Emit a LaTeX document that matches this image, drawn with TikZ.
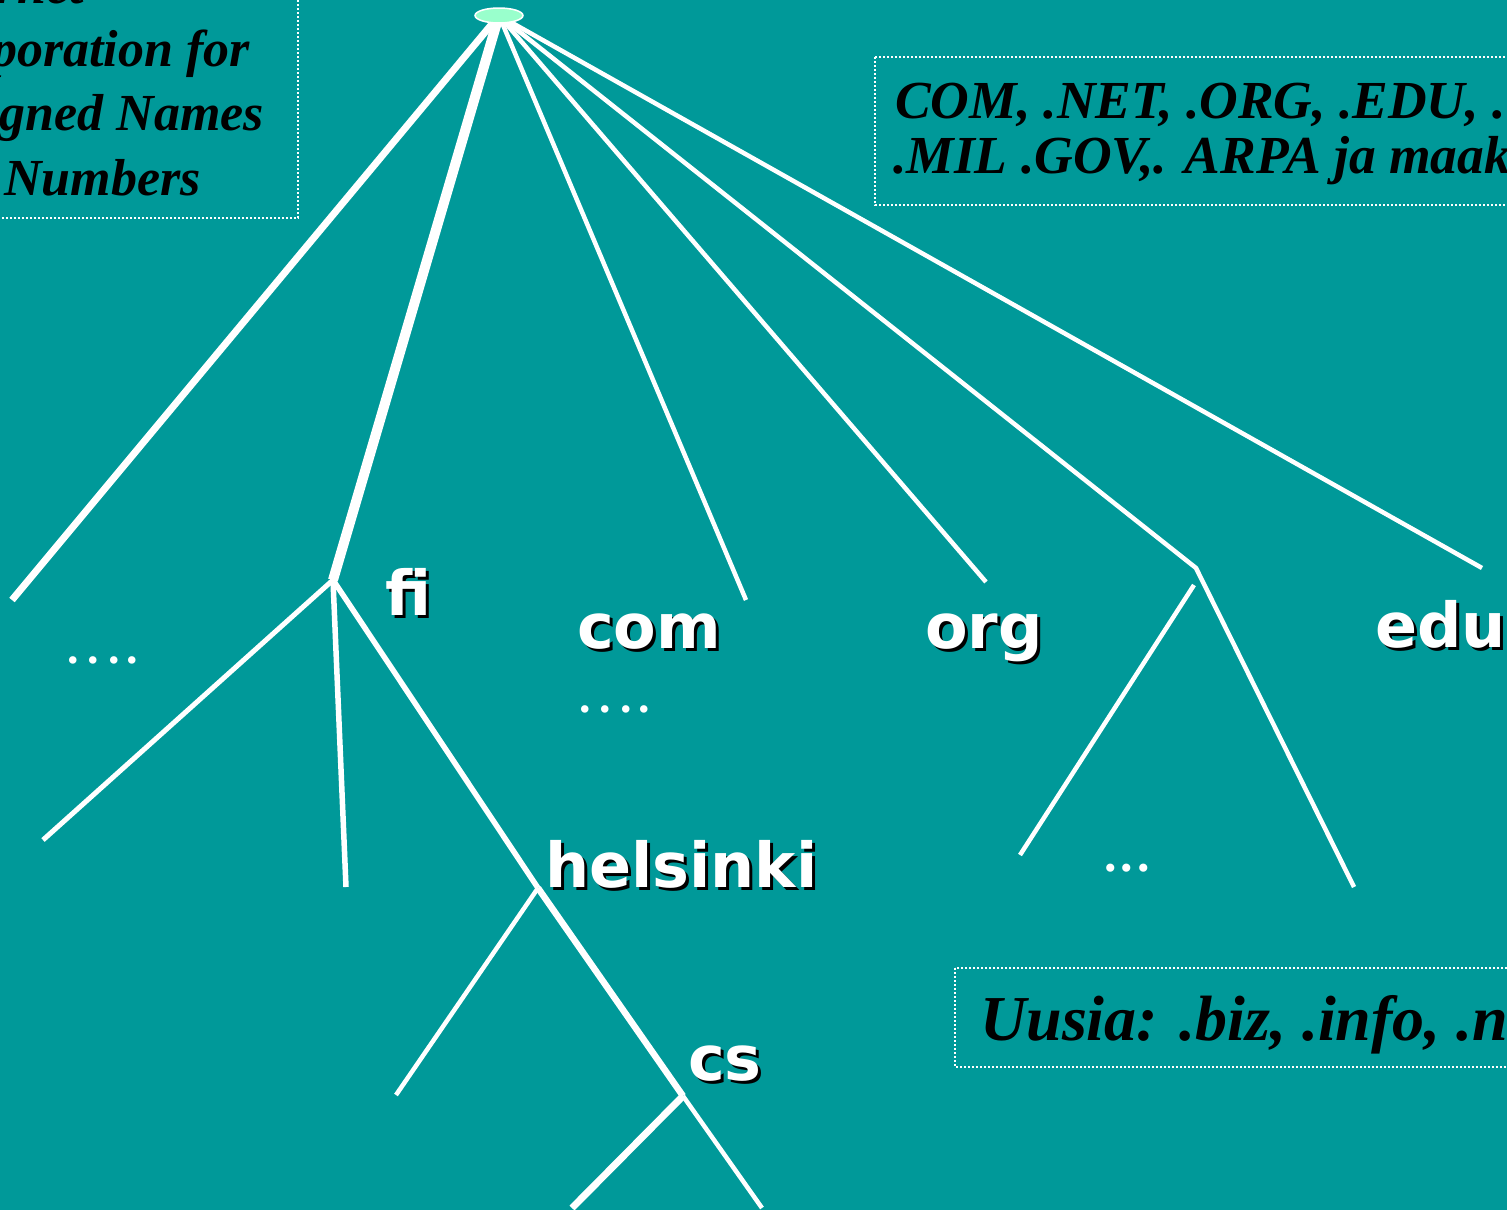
\documentclass[tikz,border=0pt]{standalone}
\usepackage{fontspec}
\usetikzlibrary{shapes.geometric}
\newfontfamily\tnr{Liberation Serif}
\newfontfamily\vrd{DejaVu Sans}
\definecolor{tealbg}{RGB}{0,153,153}
\definecolor{mint}{RGB}{153,255,204}
\pgfdeclarelayer{back}
\pgfdeclarelayer{lines}
\pgfsetlayers{back,lines,main}
\begin{document}
\begin{tikzpicture}[x=1pt,y=-1pt,
  lbl/.style={font=\vrd\bfseries\fontsize{62}{62}\selectfont,text=white,anchor=base west,inner sep=0pt},
  lblsh/.style={lbl,text=black},
  note/.style={font=\tnr\bfseries\itshape\fontsize{52}{52}\selectfont,text=black,anchor=base west,inner sep=0pt},
  notebox/.style={draw=white,line width=2pt,dash pattern=on 2pt off 2pt},
  br/.style={draw=white,line width=4.5pt},
  dotsA/.style={font=\tnr\bfseries\fontsize{46}{46}\selectfont,text=white,anchor=base west,inner sep=0pt},
  dotsB/.style={font=\tnr\bfseries\fontsize{50}{50}\selectfont,text=white,anchor=base west,inner sep=0pt}
]
\useasboundingbox (0,0) rectangle (1507,1210);
\begin{pgfonlayer}{back}
\fill[tealbg] (0,0) rectangle (1507,1210);
\end{pgfonlayer}

% root
\node[ellipse,draw=white,fill=mint,line width=1.5pt,minimum width=48pt,minimum height=15pt,inner sep=0pt] (root) at (499,15.5) {};

% coordinates
\coordinate (leftend) at (12,600);
\coordinate (fipt) at (333,580);
\coordinate (comend) at (746,600);
\coordinate (orgend) at (986,582);
\coordinate (nxpt) at (1196,568);
\coordinate (nxright) at (1354,887);
\coordinate (nxltop) at (1194,585);
\coordinate (nxlbot) at (1020,855);
\coordinate (eduend) at (1482,568);
\coordinate (fileft) at (43,840);
\coordinate (fidown) at (346,887);
\coordinate (helpt) at (538,888);
\coordinate (helleft) at (396,1095);
\coordinate (cspt) at (683,1096);
\coordinate (csleft) at (572,1208);
\coordinate (csright) at (762,1208);

\begin{pgfonlayer}{lines}
\draw[br,line width=7pt] (root.center) -- (leftend);
\draw[br,line width=10pt] (root.center) -- (fipt);
\draw[br] (root.center) -- (comend);
\draw[br] (root.center) -- (orgend);
\draw[br] (root.center) -- (nxpt) -- (nxright);
\draw[br] (nxltop) -- (nxlbot);
\draw[br] (root.center) -- (eduend);
\draw[br,line width=5pt] (fipt) -- (fileft);
\draw[br,line width=5.5pt] (fipt) -- (fidown);
\draw[br,line width=5.5pt] (fipt) -- (helpt);
\draw[br,line width=6.5pt] (helpt) -- (cspt);
\draw[br] (helpt) -- (helleft);
\draw[br,line width=7pt] (cspt) -- (csleft);
\draw[br] (cspt) -- (csright);
\end{pgfonlayer}

% labels with shadow
\node[lblsh] (fish) at (388,618) {fi};
\node[lbl] (fi) at (385,615) {fi};
\node[lblsh] (comsh) at (580,651) {com};
\node[lbl] (com) at (577,648) {com};
\node[lblsh] (orgsh) at (928,651) {org};
\node[lbl] (org) at (925,648) {org};
\node[lblsh] (edush) at (1378,650) {edu};
\node[lbl] (edu) at (1375,647) {edu};
\node[lblsh] (helsh) at (548,890) {helsinki};
\node[lbl] (hel) at (545,887) {helsinki};
\node[lblsh] (cssh) at (691,1083) {cs};
\node[lbl] (cs) at (688,1080) {cs};

% dots
\node[dotsA] (dots1) at (67,663) {.\kern9pt.\kern9pt.\kern7pt.};
\node[dotsA] (dots2) at (579,712) {.\kern9pt.\kern9pt.\kern7pt.};
\node[dotsB] (dots3) at (1104,871) {.\kern4pt.\kern4pt.};

% note boxes
\draw[notebox] (-60,-60) rectangle (298,218);
\node[note] (ic1) at (-90,3) {Internet};
\node[note] (ic2) at (-90,66) {Corporation for};
\node[note] (ic3) at (-90,130) {Assigned Names};
\node[note] (ic4) at (-90,195) {and Numbers};

\draw[notebox] (875,57) rectangle (1600,205);
\node[note,font=\tnr\bfseries\itshape\fontsize{53.5}{53.5}\selectfont] (tl1) at (895,118) {COM, .NET, .ORG, .EDU, .};
\node[note,font=\tnr\bfseries\itshape\fontsize{53.5}{53.5}\selectfont] (tl2) at (893,173) {.MIL .GOV,. ARPA ja maak};

\draw[notebox] (955,968) rectangle (1600,1067);
\node[note,font=\tnr\bfseries\itshape\fontsize{64}{64}\selectfont] (new) at (980,1040) {Uusia: .biz, .info, .name};
\end{tikzpicture}
\end{document}
